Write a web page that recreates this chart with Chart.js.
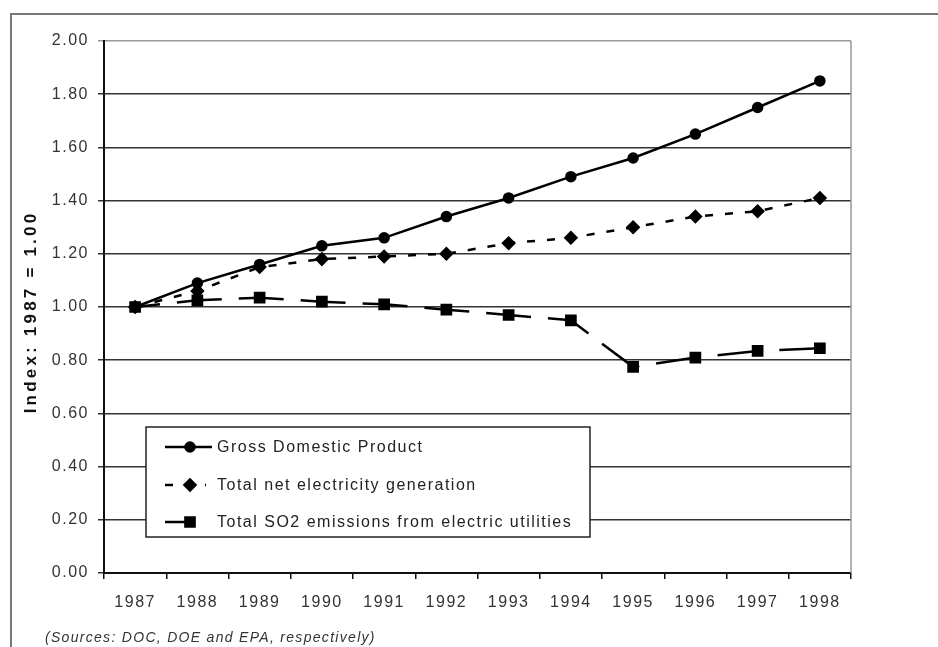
<!DOCTYPE html>
<html>
<head>
<meta charset="utf-8">
<script src="https://cdn.jsdelivr.net/npm/chart.js@4/dist/chart.umd.min.js"></script>
<style>
  html, body { margin: 0; padding: 0; background: #fff; }
  #wrap { position: relative; width: 938px; height: 647px; }
</style>
</head>
<body>
<div id="wrap"><canvas id="indexChart"></canvas></div>
<script>
// data
const years = ['1987', '1988', '1989', '1990', '1991', '1992', '1993', '1994', '1995', '1996', '1997', '1998'];
const gdp = [1.00, 1.09, 1.16, 1.23, 1.26, 1.34, 1.41, 1.49, 1.56, 1.65, 1.75, 1.85];
const electricity = [1.00, 1.06, 1.15, 1.18, 1.19, 1.20, 1.24, 1.26, 1.30, 1.34, 1.36, 1.41];
const so2 = [1.00, 1.025, 1.035, 1.02, 1.01, 0.99, 0.97, 0.95, 0.775, 0.81, 0.835, 0.845];
const yTickLabels = ['0.00', '0.20', '0.40', '0.60', '0.80', '1.00', '1.20', '1.40', '1.60', '1.80', '2.00'];
const seriesNames = ['Gross Domestic Product', 'Total net electricity generation', 'Total SO2 emissions from electric utilities'];
const yTitle = 'Index: 1987 = 1.00';
const sourceNote = '(Sources: DOC, DOE and EPA, respectively)';

const FONT = '"Liberation Sans", Arial, sans-serif';

// wide old-Excel text look
const textSpacing = {
    id: 'textSpacing',
    beforeUpdate(chart) { chart.ctx.letterSpacing = '1.5px'; },
    beforeDraw(chart) {
        const ctx = chart.ctx;
        ctx.letterSpacing = '1.5px';
        // outer frame
        ctx.save();
        ctx.strokeStyle = '#777';
        ctx.lineWidth = 2;
        ctx.beginPath();
        ctx.moveTo(11, 647);
        ctx.lineTo(11, 14);
        ctx.lineTo(938, 14);
        ctx.stroke();
        ctx.restore();
    }
};

const plotEdge = {
    id: 'plotEdge',
    beforeDatasetsDraw(chart) {
        const a = chart.chartArea, ctx = chart.ctx;
        ctx.save();
        ctx.strokeStyle = '#999';
        ctx.lineWidth = 1.5;
        ctx.beginPath();
        ctx.moveTo(a.right, a.top);
        ctx.lineTo(a.right, a.bottom);
        ctx.stroke();
        ctx.restore();
    }
};

const boxLegend = {
    id: 'boxLegend',
    afterDraw(chart) {
        const ctx = chart.ctx;
        const box = { left: 146, top: 427, right: 590, bottom: 537 };
        ctx.save();
        ctx.fillStyle = '#fff';
        ctx.fillRect(box.left, box.top, box.right - box.left, box.bottom - box.top);
        ctx.strokeStyle = '#222';
        ctx.lineWidth = 1.5;
        ctx.strokeRect(box.left, box.top, box.right - box.left, box.bottom - box.top);

        const rows = [447, 485, 522];
        const lineEnds = [212, 206, 190];
        chart.data.datasets.forEach((ds, i) => {
            const y = rows[i];
            ctx.save();
            ctx.strokeStyle = ds.borderColor;
            ctx.lineWidth = ds.borderWidth;
            ctx.setLineDash(ds.borderDash || []);
            ctx.lineDashOffset = ds.borderDashOffset || 0;
            ctx.beginPath();
            ctx.moveTo(165, y);
            ctx.lineTo(lineEnds[i], y);
            ctx.stroke();
            ctx.setLineDash([]);
            ctx.fillStyle = ds.pointBackgroundColor;
            ctx.strokeStyle = ds.pointBorderColor;
            Chart.helpers.drawPoint(ctx, {
                pointStyle: ds.pointStyle, radius: ds.pointRadius, rotation: 0, borderWidth: 1
            }, 190, y);
            ctx.restore();

            ctx.fillStyle = '#222';
            ctx.font = '16px ' + FONT;
            ctx.letterSpacing = '1.5px';
            ctx.textAlign = 'left';
            ctx.textBaseline = 'middle';
            ctx.fillText(ds.label, 217, y + 1);
        });

        // axis title
        ctx.save();
        ctx.translate(31, 312);
        ctx.rotate(-Math.PI / 2);
        ctx.font = 'bold 17px ' + FONT;
        ctx.letterSpacing = '3.2px';
        ctx.fillStyle = '#111';
        ctx.textAlign = 'center';
        ctx.textBaseline = 'middle';
        ctx.fillText(yTitle, 0, 0);
        ctx.restore();

        // sources note
        ctx.font = 'italic 14px ' + FONT;
        ctx.letterSpacing = '1.3px';
        ctx.fillStyle = '#333';
        ctx.textAlign = 'left';
        ctx.textBaseline = 'middle';
        ctx.fillText(sourceNote, 45, 638);
        ctx.restore();
    }
};

const config = {
    type: 'line',
    data: {
        labels: years,
        datasets: [{
            label: seriesNames[0],
            data: gdp,
            borderColor: '#000',
            borderWidth: 2.5,
            pointStyle: 'circle',
            pointRadius: 4.5,
            pointBackgroundColor: '#000',
            pointBorderColor: '#000',
            tension: 0
        }, {
            label: seriesNames[1],
            data: electricity,
            borderColor: '#000',
            borderWidth: 2.5,
            borderDash: [8, 12],
            borderDashOffset: 0,
            pointStyle: 'rectRot',
            pointRadius: 5.5,
            pointBackgroundColor: '#000',
            pointBorderColor: '#000',
            tension: 0
        }, {
            label: seriesNames[2],
            data: so2,
            borderColor: '#000',
            borderWidth: 2.5,
            borderDash: [45, 17],
            borderDashOffset: 20,
            pointStyle: 'rect',
            pointRadius: 6.5,
            pointBackgroundColor: '#000',
            pointBorderColor: '#000',
            tension: 0
        }]
    },
    options: {
        responsive: true,
        maintainAspectRatio: false,
        animation: false,
        events: [],
        layout: {
            padding: { top: 41, right: 87, bottom: 0, left: 0 }
        },
        plugins: {
            legend: { display: false },
            tooltip: { enabled: false }
        },
        scales: {
            x: {
                type: 'category',
                offset: true,
                afterFit(scale) { scale.height = 74; },
                grid: {
                    display: true,
                    drawOnChartArea: false,
                    offset: true,
                    tickLength: 6,
                    color: '#111',
                    lineWidth: 1.5
                },
                border: { color: '#111', width: 2 },
                ticks: {
                    autoSkip: false,
                    maxRotation: 0,
                    padding: 14,
                    color: '#333',
                    font: { family: FONT, size: 16 }
                }
            },
            y: {
                min: 0,
                max: 2,
                afterFit(scale) { scale.width = 104; },
                grid: {
                    color: (c) => (c.tick && c.tick.value >= 2 ? '#999' : '#333'),
                    lineWidth: 1.5,
                    tickLength: 6
                },
                border: { color: '#111', width: 2 },
                ticks: {
                    stepSize: 0.2,
                    padding: 9,
                    color: '#333',
                    font: { family: FONT, size: 16 },
                    callback: (v, i) => yTickLabels[i]
                }
            }
        }
    },
    plugins: [textSpacing, plotEdge, boxLegend]
};

const ctx = document.getElementById('indexChart').getContext('2d');
const indexChart = new Chart(ctx, config);
</script>
</body>
</html>
